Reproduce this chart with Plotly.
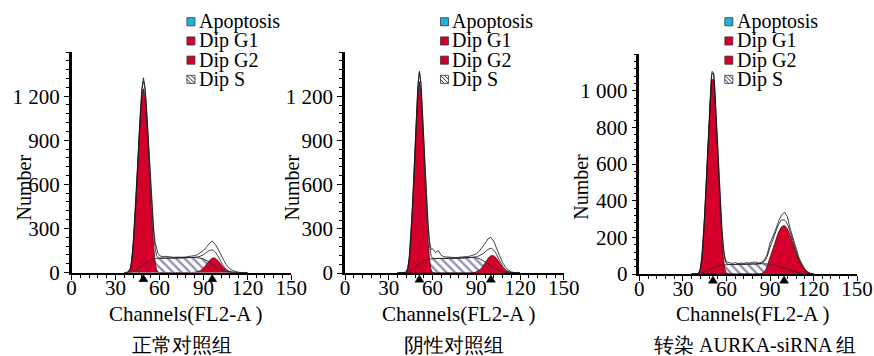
import plotly.graph_objects as go

# ---------------- data ----------------
CH = [36, 38,
      40, 41, 42, 43, 44, 45, 46, 47, 48, 49, 50, 51, 52, 53, 54, 55, 56, 57, 58, 59, 60,
      62, 64, 66, 68, 70, 72, 74, 76, 78, 80, 82, 84, 86, 88, 90, 92, 94, 96, 98, 100,
      102, 104, 106, 108, 110, 112, 114, 116, 118, 120]

# Panel 1: 正常对照组
G1_1 = [0, 0,
        20, 75, 180, 330, 500, 690, 880, 1060, 1190, 1250, 1190, 1060, 880, 690, 500, 330, 180, 75, 20, 4, 0,
        0, 0, 0, 0, 0, 0, 0, 0, 0, 0, 0, 0, 0, 0, 0, 0, 0, 0, 0, 0,
        0, 0, 0, 0, 0, 0, 0, 0, 0, 0]
S_1 = [0, 0,
       2, 4, 7, 11, 16, 22, 29, 37, 45, 53, 61, 68, 75, 81, 86, 90, 93, 95, 96, 97, 97,
       98, 98, 98, 99, 99, 99, 100, 100, 101, 102, 102, 102, 101, 98, 92, 82, 70, 56, 42, 29,
       18, 10, 5, 2, 0, 0, 0, 0, 0, 0]
G2_1 = [0, 0,
        0, 0, 0, 0, 0, 0, 0, 0, 0, 0, 0, 0, 0, 0, 0, 0, 0, 0, 0, 0, 0,
        0, 0, 0, 0, 0, 0, 0, 0, 0, 0, 0, 2, 5, 14, 30, 54, 80, 98, 98, 80,
        54, 30, 14, 5, 2, 0, 0, 0, 0, 0]
RAW_1 = [0, 2,
         25, 85, 195, 350, 530, 725, 925, 1110, 1255, 1325, 1270, 1145, 970, 790, 605, 440, 300, 205, 155, 130, 115,
         108, 110, 106, 104, 103, 105, 102, 104, 106, 108, 110, 115, 122, 135, 150, 172, 198, 215, 192, 160,
         118, 80, 48, 25, 12, 5, 2, 0, 0, 0]

# Panel 2: 阴性对照组
G1_2 = [0, 0,
        0, 0, 5, 25, 90, 210, 380, 580, 800, 1020, 1210, 1300, 1210, 1020, 800, 580, 380, 210, 90, 25, 5,
        0, 0, 0, 0, 0, 0, 0, 0, 0, 0, 0, 0, 0, 0, 0, 0, 0, 0, 0, 0,
        0, 0, 0, 0, 0, 0, 0, 0, 0, 0]
S_2 = [0, 0,
       1, 2, 4, 7, 11, 16, 22, 29, 37, 45, 53, 61, 68, 75, 81, 86, 90, 93, 95, 96, 97,
       98, 99, 99, 99, 100, 100, 100, 101, 101, 102, 103, 104, 105, 105, 103, 98, 88, 75, 62, 50,
       38, 26, 16, 9, 4, 2, 0, 0, 0, 0]
G2_2 = [0, 0,
        0, 0, 0, 0, 0, 0, 0, 0, 0, 0, 0, 0, 0, 0, 0, 0, 0, 0, 0, 0, 0,
        0, 0, 0, 0, 0, 0, 0, 0, 0, 0, 0, 0, 1, 3, 8, 19, 40, 68, 98, 117,
        117, 98, 68, 40, 19, 8, 3, 1, 0, 0]
RAW_2 = [0, 0,
         2, 4, 12, 35, 105, 235, 415, 625, 850, 1080, 1280, 1370, 1300, 1110, 895, 680, 490, 330, 215, 160, 165,
         140, 152, 120, 110, 108, 106, 108, 105, 107, 108, 110, 112, 116, 122, 130, 148, 172, 200, 232, 242,
         215, 172, 118, 72, 40, 20, 8, 3, 0, 0]

# Panel 3: 转染 AURKA-siRNA 组
G1_3 = [0, 0,
        0, 6, 25, 80, 175, 310, 470, 640, 800, 960, 1060, 1060, 960, 800, 640, 470, 310, 175, 80, 25, 6,
        0, 0, 0, 0, 0, 0, 0, 0, 0, 0, 0, 0, 0, 0, 0, 0, 0, 0, 0, 0,
        0, 0, 0, 0, 0, 0, 0, 0, 0, 0]
S_3 = [0, 0,
       1, 2, 3, 5, 8, 11, 15, 19, 23, 27, 31, 35, 38, 41, 44, 46, 48, 49, 50, 51, 51,
       52, 52, 52, 53, 53, 53, 54, 54, 55, 55, 56, 56, 56, 55, 54, 51, 47, 42, 37, 31,
       26, 20, 15, 11, 7, 4, 2, 1, 0, 0]
G2_3 = [0, 0,
        0, 0, 0, 0, 0, 0, 0, 0, 0, 0, 0, 0, 0, 0, 0, 0, 0, 0, 0, 0, 0,
        0, 0, 0, 0, 0, 0, 0, 0, 0, 0, 0, 2, 12, 40, 91, 136, 185, 229, 258, 264,
        246, 208, 161, 113, 72, 45, 22, 8, 1, 0]
RAW_3 = [0, 0,
         3, 10, 30, 90, 190, 330, 495, 670, 835, 1000, 1105, 1100, 1010, 850, 695, 525, 370, 235, 140, 88, 66,
         60, 58, 62, 57, 60, 58, 62, 60, 64, 66, 60, 64, 75, 105, 168, 205, 245, 290, 322, 338,
         312, 245, 190, 135, 88, 55, 28, 12, 4, 1]

G1_PEAK = [49, 51, 50.7]
G2_PEAK = [96, 100, 99.7]

X_TICKS = [0, 30, 60, 90, 120, 150]
Y_TICKS_A = [0, 300, 600, 900, 1200]
Y_TEXT_A = ["0", "300", "600", "900", "1 200"]
Y_TICKS_B = [0, 200, 400, 600, 800, 1000]
Y_TEXT_B = ["0", "200", "400", "600", "800", "1 000"]

TITLES = ["正常对照组", "阴性对照组", "转染 AURKA-siRNA 组"]
LEGEND = ["Apoptosis", "Dip G1", "Dip G2", "Dip S"]

# ---------------- style / layout ----------------
W, H = 874, 356            # reference geometry (all positions are fractions of this)
PAGE_W, PAGE_H = 890, 372  # size of the photographed page area
RED = "#d4002b"
CYAN = "#1fb3da"
HATCH = "#24246e"
FONT = "Liberation Serif"


def px(x):
    return x / W


def py(y):
    return 1 - y / H


PANELS = [
    dict(x0=67, x1=288, yz=269.5, yt=51.5, ymax=1500, tv=Y_TICKS_A, tt=Y_TEXT_A, mdt=60,
         data=(G1_1, S_1, G2_1, RAW_1), ytitle_x=19.5, leg_x=183, title_x=178),
    dict(x0=342, x1=562, yz=270, yt=51.5, ymax=1500, tv=Y_TICKS_A, tt=Y_TEXT_A, mdt=60,
         data=(G1_2, S_2, G2_2, RAW_2), ytitle_x=289, leg_x=438, title_x=452),
    dict(x0=638, x1=857, yz=271, yt=53.5, ymax=1200, tv=Y_TICKS_B, tt=Y_TEXT_B, mdt=40,
         data=(G1_3, S_3, G2_3, RAW_3), ytitle_x=579, leg_x=724, title_x=754),
]

fig = go.Figure()
annotations = []
shapes = []

for i, p in enumerate(PANELS):
    n = "" if i == 0 else str(i + 1)
    xa, ya = "x" + n, "y" + n
    g1, s, g2, raw = p["data"]
    fit = [a + b + c for a, b, c in zip(g1, s, g2)]

    fig.add_trace(go.Scatter(x=CH, y=s, xaxis=xa, yaxis=ya, mode="lines", fill="tozeroy",
                             line=dict(color="rgba(0,0,0,0)", width=0, shape="spline", smoothing=0.6),
                             fillcolor="white",
                             fillpattern=dict(shape="\\", fgcolor=HATCH, bgcolor="white", size=6, solidity=0.4),
                             showlegend=False, hoverinfo="skip"))
    for comp in (g1, g2):
        fig.add_trace(go.Scatter(x=CH, y=comp, xaxis=xa, yaxis=ya, mode="lines", fill="tozeroy",
                                 fillcolor=RED,
                                 line=dict(color="#3a0a10", width=0.8, shape="spline", smoothing=0.6),
                                 showlegend=False, hoverinfo="skip"))
    fig.add_trace(go.Scatter(x=CH, y=s, xaxis=xa, yaxis=ya, mode="lines",
                             line=dict(color="#3b2a2a", width=1, shape="spline", smoothing=0.6),
                             showlegend=False, hoverinfo="skip"))
    fig.add_trace(go.Scatter(x=CH, y=fit, xaxis=xa, yaxis=ya, mode="lines",
                             line=dict(color="#222222", width=0.9, shape="spline", smoothing=0.6),
                             showlegend=False, hoverinfo="skip"))
    fig.add_trace(go.Scatter(x=CH, y=raw, xaxis=xa, yaxis=ya, mode="lines",
                             line=dict(color="#111111", width=0.8),
                             showlegend=False, hoverinfo="skip"))

    # peak markers (black triangles just below the x axis)
    for pk in (G1_PEAK[i], G2_PEAK[i]):
        shapes.append(dict(type="path", xref=xa, yref="paper", xsizemode="pixel", xanchor=pk,
                           path="M-4.5,%f L4.5,%f L0,%f Z" % (py(p["yz"] + 9), py(p["yz"] + 9), py(p["yz"] + 2)),
                           fillcolor="black", line=dict(color="black", width=0.5), layer="above"))

    xdom = [px(p["x0"]), px(p["x1"])]
    ydom = [py(p["yz"]), py(p["yt"])]
    fig.layout["xaxis" + n] = dict(
        domain=xdom, anchor=ya, range=[0, 150], tickvals=X_TICKS, ticks="outside", ticklen=5,
        tickwidth=1, tickcolor="black", showline=True, linewidth=2, linecolor="black",
        showgrid=False, zeroline=False, tickfont=dict(family=FONT, size=21, color="black"),
        ticklabelstandoff=-10,
        minor=dict(dtick=6, tick0=0, ticks="outside", ticklen=3, tickcolor="black", tickwidth=1),
    )
    fig.layout["yaxis" + n] = dict(
        domain=ydom, anchor=xa, range=[0, p["ymax"]], tickvals=p["tv"], ticktext=p["tt"],
        ticks="outside", ticklen=5, tickwidth=1, tickcolor="black", showline=True, linewidth=2.5,
        linecolor="black", showgrid=False, zeroline=False,
        tickfont=dict(family=FONT, size=21, color="black"),
        minor=dict(dtick=p["mdt"], tick0=0, ticks="outside", ticklen=3, tickcolor="black", tickwidth=1),
    )

    annotations.append(dict(text="Channels(FL2-A )", x=px((p["x0"] + p["x1"]) / 2 + 4), y=py(311),
                            xref="paper", yref="paper", showarrow=False, xanchor="center", yanchor="middle",
                            font=dict(family=FONT, size=21, color="black")))
    annotations.append(dict(text="Number", x=px(p["ytitle_x"]), y=py(185), textangle=-90,
                            xref="paper", yref="paper", showarrow=False, xanchor="center", yanchor="middle",
                            font=dict(family=FONT, size=20, color="black")))
    annotations.append(dict(text=TITLES[i], x=px(p["title_x"]), y=py(341),
                            xref="paper", yref="paper", showarrow=False, xanchor="center", yanchor="middle",
                            font=dict(family=FONT, size=20, color="black")))

    lx = p["leg_x"]
    colors = [CYAN, RED, RED, None]
    for k, lab in enumerate(LEGEND):
        cy = 21.5 + 19 * k
        shapes.append(dict(type="rect", xref="paper", yref="paper",
                           x0=px(lx), x1=px(lx + 8), y0=py(cy + 4), y1=py(cy - 4),
                           fillcolor=colors[k] if colors[k] else "white",
                           line=dict(color="#333333", width=0.8)))
        if colors[k] is None:
            for off in (-4, 0, 4):
                xa0, ya0 = lx + max(off, 0), cy - 4 + max(-off, 0)
                xa1, ya1 = lx + 8 + min(off, 0), cy + 4 + min(-off, 0)
                shapes.append(dict(type="line", xref="paper", yref="paper",
                                   x0=px(xa0), y0=py(ya0), x1=px(xa1), y1=py(ya1),
                                   line=dict(color=HATCH, width=1)))
        annotations.append(dict(text=lab, x=px(lx + 10), y=py(cy), xref="paper", yref="paper",
                                showarrow=False, xanchor="left", yanchor="middle",
                                font=dict(family=FONT, size=20, color="black")))

fig.update_layout(
    autosize=True, margin=dict(l=0, r=0, t=0, b=0),
    paper_bgcolor="white", plot_bgcolor="white",
    showlegend=False, annotations=annotations, shapes=shapes,
)

# graph div pinned to the page corner, covering the whole photographed area
fig.write_html("out.html",
               config={"displayModeBar": False},
               default_width="%dpx" % PAGE_W,
               default_height="%dpx; position:absolute; left:0px; top:0px" % PAGE_H)
